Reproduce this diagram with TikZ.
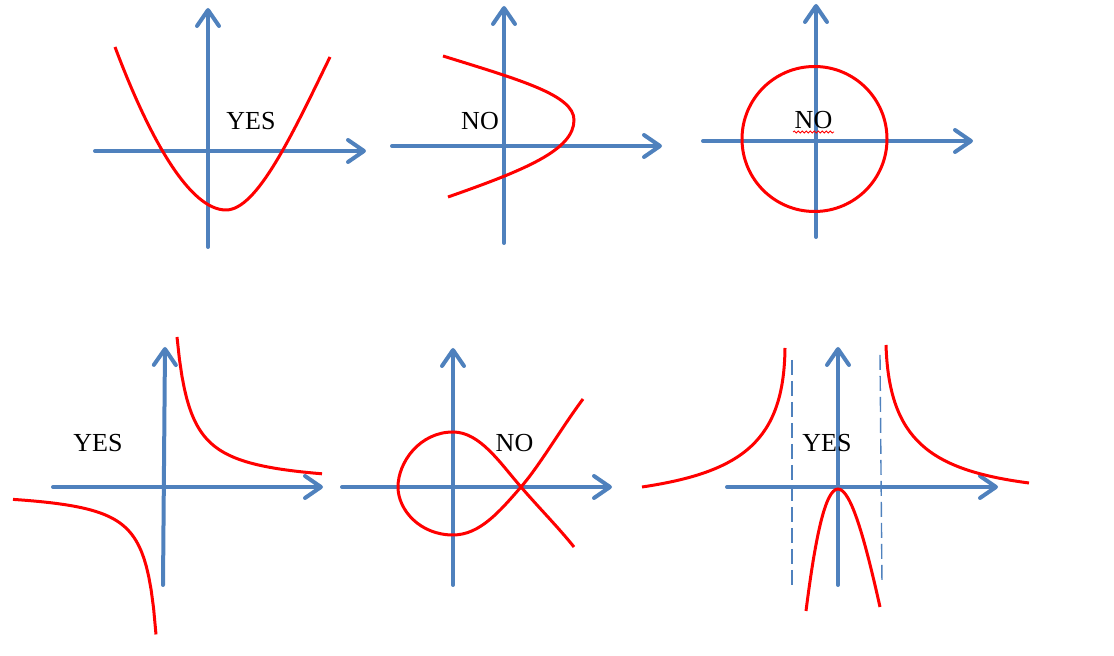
\documentclass[tikz,border=0pt]{standalone}
\usepackage{fontspec}
\setmainfont{Liberation Serif}
\usetikzlibrary{arrows.meta,decorations.pathmorphing}
\definecolor{axisblue}{RGB}{79,129,189}

\begin{document}
\begin{tikzpicture}[x=0.5pt,y=-0.5pt,
  axis/.style={line width=2pt,axisblue,line cap=round,-{Straight Barb[length=8pt,width=11pt,line cap=round,line join=round]}},
  curve/.style={line width=1.5pt,red},
  asym/.style={line width=0.7pt,axisblue,dash pattern=on 7.5pt off 3pt},
  lbl/.style={font=\fontsize{13}{15}\selectfont,inner sep=0pt}]
\useasboundingbox (0,0) rectangle (1114,656);
% top row
\draw[axis] (95,151) -- (366,151);
\draw[axis] (208,247) -- (208,8);
\draw[curve] (115,47) .. controls (150,140) and (190,210) .. (226,210) .. controls (257,210) and (292,135) .. (330,57);
\node[lbl] (yes1) at (251,121) {YES};
\draw[axis] (392,146) -- (662,146);
\draw[axis] (504,243) -- (504,6);
\draw[curve] (443,56) .. controls (520,80) and (574,95) .. (574,120) .. controls (574,150) and (525,170) .. (448,197);
\node[lbl] (no2) at (480,121) {NO};
\draw[axis] (703,141) -- (973,141);
\draw[axis] (816,237) -- (816,4);
\draw[curve] (814.5,139) circle[radius=72.5];
\node[lbl] (no3) at (813.5,120) {NO};
\draw[red,line width=0.4pt,decorate,decoration={snake,amplitude=0.5pt,segment length=2pt}] (793,132) -- (834,132);
% bottom row
\draw[axis] (53,487) -- (323,487);
\draw[axis] (163,585) -- (165,347);
\draw[curve] plot[domain=177:322,samples=60] (\x,{487-2100/(\x-163)});
\draw[curve] plot[domain=13:156,samples=60] (\x,{489+1600/(167-\x)});
\node[lbl] (yes4) at (98,443) {YES};
\draw[axis] (342,487) -- (612,487);
\draw[axis] (453,585) -- (453,348);
\draw[curve] (583,399) .. controls (560,430) and (540,465) .. (521,487)
  .. controls (500,511) and (480,535) .. (453,535)
  .. controls (420,535) and (398,510) .. (398,487)
  .. controls (398,462) and (420,432) .. (453,432)
  .. controls (480,432) and (500,463) .. (521,487)
  .. controls (540,509) and (558,527) .. (574,547);
\node[lbl] (no5) at (514.5,443) {NO};
\draw[asym] (792,360) -- (792,589);
\draw[asym] (880,355) -- (882,585);
\draw[axis] (727,487) -- (998,487);
\draw[axis] (838,585) -- (838,347);
\draw[curve] (785,348) .. controls (784,440) and (743,472) .. (642,487);
\draw[curve] (806,611) .. controls (815,540) and (825,489) .. (838,489) .. controls (851,489) and (865,540) .. (880,607);
\draw[curve] (886,345) .. controls (889,440) and (930,470) .. (1029,483);
\node[lbl] (yes6) at (827,443) {YES};
\end{tikzpicture}
\end{document}
